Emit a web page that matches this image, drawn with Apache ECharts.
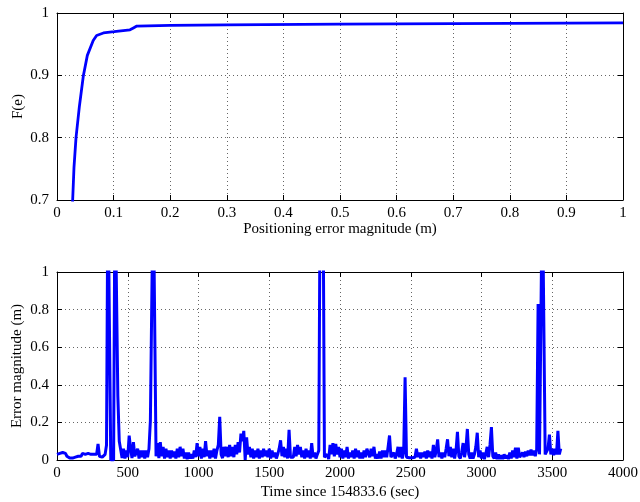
<!DOCTYPE html>
<html>
<head>
<meta charset="utf-8">
<script src="https://cdn.jsdelivr.net/npm/echarts@6/dist/echarts.min.js"></script>
<style>
  html, body { margin: 0; padding: 0; background: #fff; }
  #main { width: 640px; height: 502px; }
</style>
</head>
<body>
<div id="main"></div>
<script>
// top panel: empirical CDF of positioning error
const cdfErr = [0.025, 0.0277, 0.030, 0.0336, 0.0394, 0.0465, 0.0536, 0.064, 0.070, 0.082, 0.101, 0.129, 0.135, 0.141, 0.2, 0.3, 0.5, 0.7, 1.0];
const cdfProb = [0.65, 0.70, 0.752, 0.80, 0.849, 0.899, 0.932, 0.956, 0.964, 0.968, 0.970, 0.973, 0.976, 0.979, 0.980, 0.981, 0.982, 0.983, 0.984];

// bottom panel: error magnitude, one sample every 10 s starting at t = 0
const errStep = 10;
const errValue = [
  0.03, 0.02, 0.035, 0.025, 0.04, 0.03, 0.035, 0.02, 0.015, 0.01, 0.015, 0.01, 0.02, 0.015, 0.025, 0.02, 0.03, 0.02, 0.035, 0.025,
  0.03, 0.02, 0.035, 0.025, 0.03, 0.02, 0.03, 0.025, 0.03, 0.085, 0.02, 0.025, 0.015, 0.02, 0.03, 0.08, 1.5, 1.5, 0.0, 0.0,
  0.0, 1.5, 1.5, 0.34, 0.1, 0.09, 0.01, 0.06, 0.008, 0.05, 0.015, 0.13, 0.06, 0.01, 0.095, 0.02, 0.01, 0.06, 0.008, 0.05,
  0.015, 0.05, 0.008, 0.05, 0.015, 0.06, 0.21, 0.2, 1.5, 1.5, 0.02, 0.09, 0.01, 0.095, 0.02, 0.07, 0.008, 0.06, 0.015, 0.05,
  0.008, 0.05, 0.015, 0.045, 0.008, 0.06, 0.015, 0.07, 0.02, 0.06, 0.008, 0.04, 0.005, 0.04, 0.008, 0.03, 0.008, 0.05, 0.015, 0.09,
  0.02, 0.07, 0.008, 0.06, 0.015, 0.1, 0.02, 0.05, 0.008, 0.05, 0.015, 0.06, 0.008, 0.05, 0.08, 0.23, 0.03, 0.01, 0.07, 0.02,
  0.07, 0.015, 0.08, 0.02, 0.07, 0.015, 0.08, 0.03, 0.095, 0.04, 0.14, 0.1, 0.155, 0.0, 0.12, 0.03, 0.07, 0.015, 0.06, 0.008,
  0.05, 0.015, 0.06, 0.008, 0.05, 0.015, 0.06, 0.02, 0.05, 0.015, 0.06, 0.008, 0.05, 0.015, 0.04, 0.008, 0.03, 0.06, 0.105, 0.02,
  0.07, 0.015, 0.06, 0.008, 0.16, 0.015, 0.008, 0.015, 0.07, 0.02, 0.08, 0.03, 0.07, 0.015, 0.05, 0.008, 0.06, 0.015, 0.05, 0.008,
  0.09, 0.015, 0.04, 0.008, 0.03, 0.05, 1.5, 1.2, 1.5, 0.015, 0.008, 0.03, 0.005, 0.08, 0.03, 0.09, 0.02, 0.085, 0.03, 0.07,
  0.015, 0.06, 0.008, 0.05, 0.015, 0.07, 0.008, 0.04, 0.015, 0.05, 0.008, 0.06, 0.015, 0.05, 0.008, 0.04, 0.008, 0.05, 0.015, 0.06,
  0.07, 0.015, 0.06, 0.02, 0.07, 0.008, 0.03, 0.008, 0.045, 0.008, 0.05, 0.015, 0.05, 0.015, 0.07, 0.13, 0.015, 0.008, 0.04, 0.008,
  0.03, 0.07, 0.015, 0.07, 0.008, 0.04, 0.44, 0.015, 0.008, 0.012, 0.008, 0.012, 0.008, 0.015, 0.06, 0.015, 0.04, 0.008, 0.04, 0.015,
  0.045, 0.008, 0.05, 0.015, 0.045, 0.008, 0.08, 0.015, 0.05, 0.11, 0.015, 0.04, 0.008, 0.04, 0.015, 0.06, 0.11, 0.02, 0.07, 0.015,
  0.06, 0.008, 0.05, 0.15, 0.02, 0.008, 0.04, 0.09, 0.015, 0.06, 0.165, 0.03, 0.008, 0.04, 0.008, 0.03, 0.07, 0.145, 0.015, 0.05,
  0.008, 0.04, 0.005, 0.03, 0.07, 0.015, 0.08, 0.175, 0.02, 0.008, 0.04, 0.005, 0.03, 0.005, 0.025, 0.005, 0.03, 0.008, 0.025, 0.005,
  0.04, 0.008, 0.05, 0.015, 0.065, 0.008, 0.065, 0.015, 0.008, 0.04, 0.015, 0.045, 0.02, 0.05, 0.025, 0.055, 0.025, 0.05, 0.02, 0.055,
  0.83, 0.03, 0.02, 1.5, 1.5, 0.03, 0.02, 0.06, 0.135, 0.03, 0.06, 0.025, 0.06, 0.03, 0.155, 0.03, 0.06
];

const topXLabels = [0, 0.1, 0.2, 0.3, 0.4, 0.5, 0.6, 0.7, 0.8, 0.9, 1];
const topYLabels = [0.7, 0.8, 0.9, 1];
const botXLabels = [0, 500, 1000, 1500, 2000, 2500, 3000, 3500, 4000];
const botYLabels = [0, 0.2, 0.4, 0.6, 0.8, 1];

const FONT = '"Liberation Serif", "DejaVu Serif", serif';
const chart = echarts.init(document.getElementById('main'));

const grids = [
  { left: 57, top: 13, width: 566, height: 187, outerBoundsMode: 'none' },
  { left: 57, top: 272, width: 566, height: 188, outerBoundsMode: 'none' }
];

function mainAxis(opts) {
  return Object.assign({
    type: 'value',
    axisLine: { show: true, onZero: false, lineStyle: { color: '#000', width: 1 } },
    axisTick: { show: true, inside: true, length: 5, lineStyle: { color: '#000' } },
    splitLine: { show: true, lineStyle: { color: '#666', type: [1, 3], width: 1 } },
    nameTextStyle: { color: '#000', fontFamily: FONT, fontSize: 15 },
    nameLocation: 'middle',
    nameMoveOverlap: false
  }, opts);
}

function boxAxis(opts) {
  return Object.assign({
    type: 'value',
    axisLine: { show: true, onZero: false, lineStyle: { color: '#000', width: 1 } },
    axisTick: { show: true, inside: true, length: 5, lineStyle: { color: '#000' } },
    axisLabel: { show: false },
    splitLine: { show: false }
  }, opts);
}

const fmtDec = v => String(Math.round(v * 10) / 10);
const fmtInt = v => String(Math.round(v));
const label = (fmt, margin) => ({ color: '#000', fontFamily: FONT, fontSize: 15, margin: margin, formatter: fmt });

chart.setOption({
  animation: false,
  backgroundColor: '#fff',
  grid: grids,
  xAxis: [
    mainAxis({ gridIndex: 0, min: topXLabels[0], max: topXLabels[topXLabels.length - 1], interval: 0.1,
      name: 'Positioning error magnitude (m)', nameGap: 22, axisLabel: label(fmtDec, 6) }),
    mainAxis({ gridIndex: 1, min: botXLabels[0], max: botXLabels[botXLabels.length - 1], interval: 500,
      name: 'Time since 154833.6 (sec)', nameGap: 25, axisLabel: label(fmtInt, 6) }),
    boxAxis({ gridIndex: 0, position: 'top', min: 0, max: 1, interval: 0.1 }),
    boxAxis({ gridIndex: 1, position: 'top', min: 0, max: 4000, interval: 500 })
  ],
  yAxis: [
    mainAxis({ gridIndex: 0, min: topYLabels[0], max: topYLabels[topYLabels.length - 1], interval: 0.1,
      name: 'F(e)', nameGap: 31, axisLabel: label(fmtDec, 8) }),
    mainAxis({ gridIndex: 1, min: botYLabels[0], max: botYLabels[botYLabels.length - 1], interval: 0.2,
      name: 'Error magnitude (m)', nameGap: 32, axisLabel: label(fmtDec, 8) }),
    boxAxis({ gridIndex: 0, position: 'right', min: 0.7, max: 1, interval: 0.1 }),
    boxAxis({ gridIndex: 1, position: 'right', min: 0, max: 1, interval: 0.2 })
  ],
  series: [
    {
      type: 'line', xAxisIndex: 0, yAxisIndex: 0,
      data: cdfErr.map((e, i) => [e, cdfProb[i]]),
      showSymbol: false, smooth: false, clip: true,
      lineStyle: { color: '#0000ff', width: 2.8 }
    },
    {
      type: 'line', xAxisIndex: 1, yAxisIndex: 1,
      data: errValue.map((v, i) => [i * errStep, v]),
      showSymbol: false, smooth: false, clip: true,
      lineStyle: { color: '#0000ff', width: 3 }
    }
  ]
});
</script>
</body>
</html>
